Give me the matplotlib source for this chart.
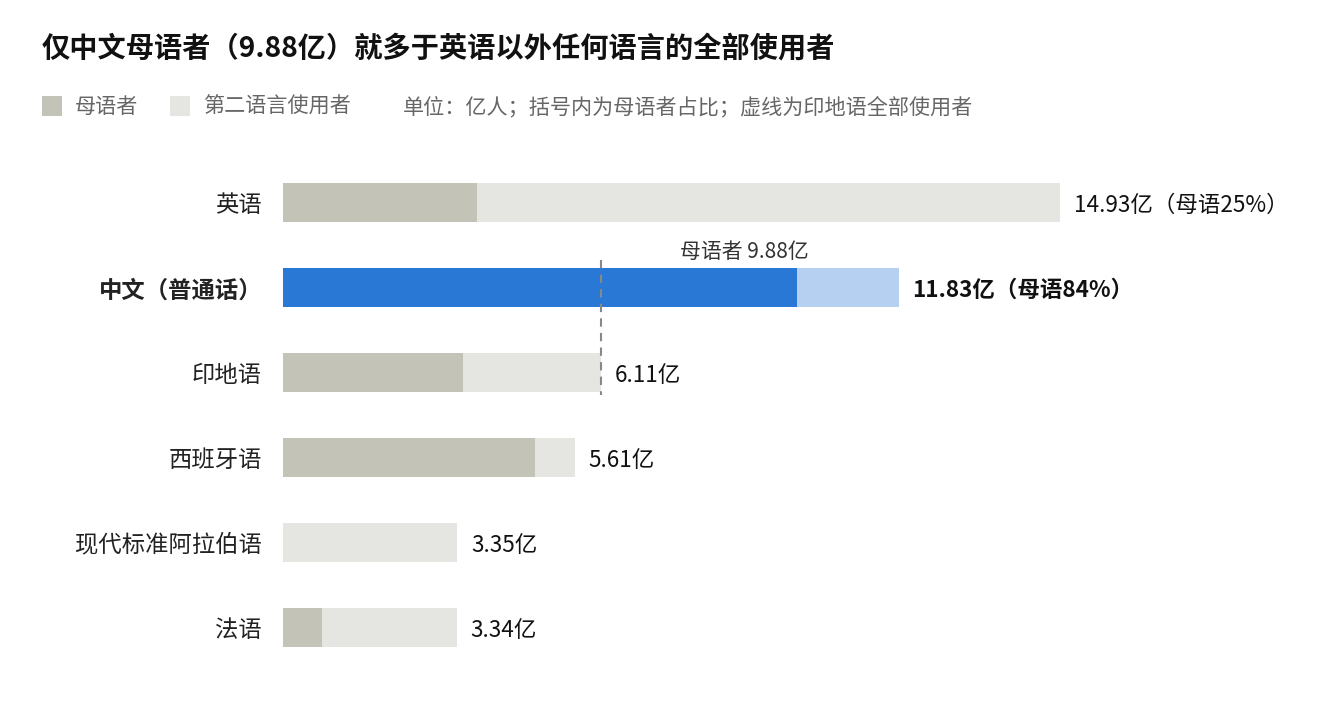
import matplotlib.pyplot as plt

plt.rcParams['font.family'] = ['Noto Sans CJK SC', 'DejaVu Sans']

# 数据（单位：亿人）
languages = ['英语', '中文（普通话）', '印地语', '西班牙语', '现代标准阿拉伯语', '法语']
native = [3.73, 9.88, 3.45, 4.85, 0.0, 0.74]
total = [14.93, 11.83, 6.11, 5.61, 3.35, 3.34]
value_labels = ['14.93亿（母语25%）', '11.83亿（母语84%）', '6.11亿', '5.61亿', '3.35亿', '3.34亿']
hindi_total = 6.11

c_native = '#c3c3b8'
c_second = '#e5e6e1'
c_cn_native = '#2a78d6'
c_cn_second = '#b5d0f0'

fig = plt.figure(figsize=(13.44, 7.06), dpi=100)
W, H = 1344, 706
# 轴区域：x 从 283px 开始，每亿人约 52px
left_px, right_px = 283, 1330
top_px, bottom_px = 160, 670
ax = fig.add_axes([left_px / W, 1 - bottom_px / H, (right_px - left_px) / W, (bottom_px - top_px) / H])
ax.set_xlim(0, (right_px - left_px) / 52.04)
ax.set_ylim(5.5, -0.5)
ax.axis('off')

ypos = list(range(len(languages)))
second = [t - n for t, n in zip(total, native)]
for i in ypos:
    cn = languages[i].startswith('中文')
    ax.barh(i, native[i], height=0.46, color=c_cn_native if cn else c_native, linewidth=0)
    ax.barh(i, second[i], left=native[i], height=0.46, color=c_cn_second if cn else c_second, linewidth=0)
    ax.annotate(languages[i], xy=(0, i), xytext=(-15, -2), textcoords='offset points',
                ha='right', va='center', fontsize=16.8, color='#222222',
                fontweight='bold' if cn else 'normal')
    ax.annotate(value_labels[i], xy=(total[i], i), xytext=(10, -2), textcoords='offset points',
                ha='left', va='center', fontsize=16.2, color='#111111',
                fontweight='bold' if cn else 'normal')

# 印地语全部使用者虚线
ax.plot([hindi_total, hindi_total], [0.68, 2.27], color='#888888', lw=1.5, ls=(0, (4, 3)))
ax.annotate('母语者 9.88亿', xy=(native[1], 0.56), xytext=(8, -1), textcoords='offset points',
            ha='right', va='center', fontsize=15, color='#333333')

# 标题与图例
fig.text(42 / W, 1 - 48 / H, '仅中文母语者（9.88亿）就多于英语以外任何语言的全部使用者',
         fontsize=20.3, fontweight='bold', color='#111111', ha='left', va='center')
fig.patches.append(plt.Rectangle((42 / W, 1 - 116 / H), 20 / W, 20 / H, transform=fig.transFigure,
                                 color=c_native, linewidth=0))
fig.text(75 / W, 1 - 107 / H, '母语者', fontsize=15.2, color='#666666', va='center')
fig.patches.append(plt.Rectangle((170 / W, 1 - 116 / H), 20 / W, 20 / H, transform=fig.transFigure,
                                 color=c_second, linewidth=0))
fig.text(203 / W, 1 - 107 / H, '第二语言使用者', fontsize=15.2, color='#666666', va='center')
fig.text(403 / W, 1 - 107 / H, '单位：亿人；括号内为母语者占比；虚线为印地语全部使用者',
         fontsize=15.2, color='#666666', va='center')

plt.savefig('out.png', dpi=100, facecolor='white')
